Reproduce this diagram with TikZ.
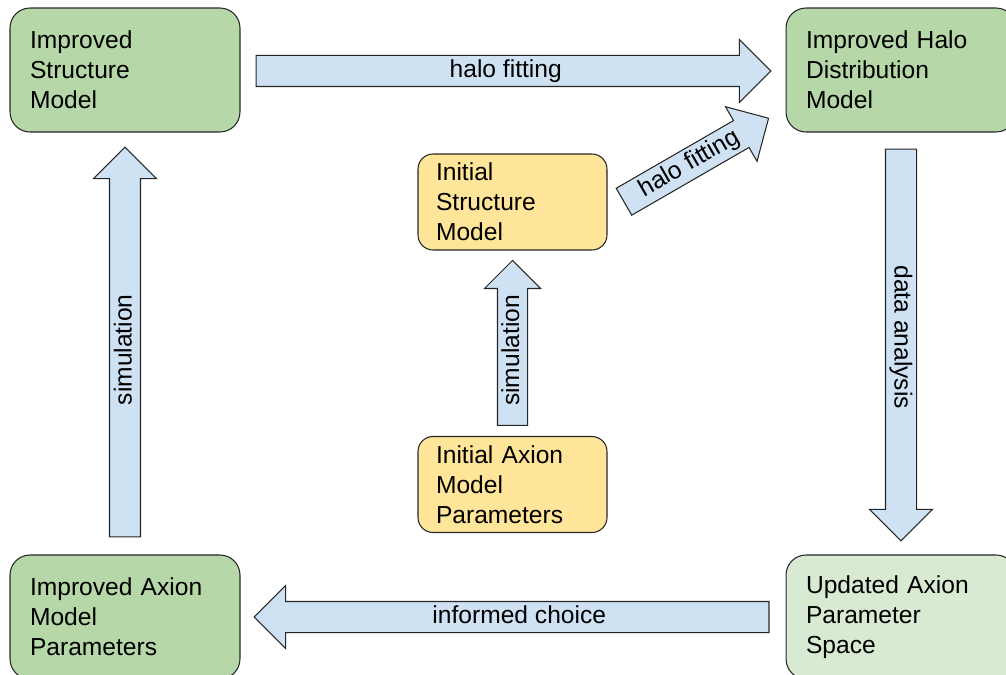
\documentclass[tikz,border=0pt]{standalone}
\usepackage{fontspec}
\setmainfont{Liberation Sans}
\usepackage{tikz}
\usetikzlibrary{calc,shapes.arrows}

\definecolor{boxgreen}{HTML}{B6D7A8}
\definecolor{boxpale}{HTML}{D9EAD3}
\definecolor{boxyellow}{HTML}{FFE599}
\definecolor{flowblue}{HTML}{CFE2F3}

\begin{document}
\begin{tikzpicture}[x=0.02cm,y=-0.02cm,
		box/.style={draw=black!85,line width=0.6pt,rounded corners=0.4cm,fill=boxgreen,
			minimum width=4.6cm,minimum height=2.48cm,text width=3.8cm,inner xsep=0.4cm,
			align=left,font=\fontsize{14}{17}\selectfont},
		small/.style={box,fill=boxyellow,rounded corners=0.3cm,minimum width=3.78cm,
			minimum height=1.92cm,text width=3.06cm,inner xsep=0.36cm},
		flow/.style={single arrow,draw=black!85,line width=0.6pt,fill=flowblue,anchor=tail,
			minimum width=1.24cm,single arrow head extend=0.32cm,single arrow head indent=0pt,
			text height=0.38cm,text depth=0.12cm,inner ysep=0.05cm,inner xsep=2pt,
			font=\fontsize{14}{17}\selectfont}]
			\clip (0,0) rectangle (1006,675);
			
			% the improvement loop
			\node[box] (ism) at (125,70) {Improved\\Structure\\Model};
			\node[box] (ihd) at (901,70) {Improved Halo\\Distribution\\Model};
			\node[box,fill=boxpale] (uaps) at (901,617) {Updated Axion\\Parameter\\Space};
			\node[box] (iamp) at (125,617) {Improved Axion\\Model\\Parameters};
			
			% starting point
			\node[small] (ism0) at (512.5,202) {Initial\\Structure\\Model};
			\node[small] (iamp0) at (512.5,484.5) {Initial Axion\\Model\\Parameters};
			
			% block arrows, placed by their tails
			\node[flow,minimum height=10.3cm] (fit) at ($(ism.east)+(15,1)$) {halo fitting};
			\node[flow,minimum height=7.84cm,rotate=-90] (analysis) at ($(ihd.south)+(0,16)$) {data analysis};
			\node[flow,minimum height=10.3cm,shape border rotate=180] (choice) at ($(uaps.west)+(-16,0)$) {informed choice};
			\node[flow,minimum height=7.8cm,rotate=90] (sim) at ($(iamp.north)+(0,-17)$) {simulation};
			
			\node[flow,minimum height=3.3cm,minimum width=1.1cm,single arrow head extend=0.26cm,
			inner ysep=0.04cm,rotate=90] (sim0) at ($(iamp0.north)+(0,-10)$) {simulation};
			\node[flow,minimum height=3.34cm,rotate=30] (fit0) at ($(ism0.east)+(16,0)$) {halo fitting};
		\end{tikzpicture}
\end{document}
